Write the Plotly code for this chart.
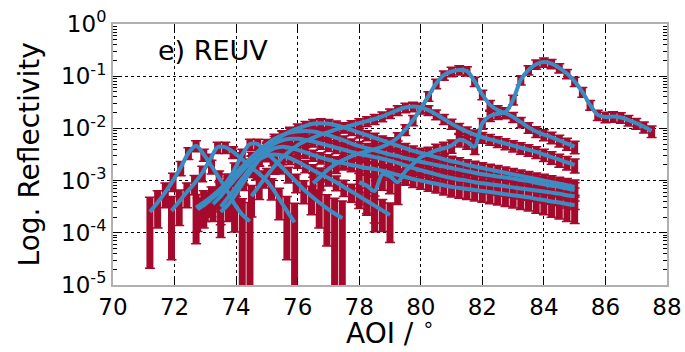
import numpy as np
import plotly.graph_objects as go

# ---------------- data (log10 reflectivity, sampled every 0.25 deg AOI) ----------------
aoi_step = 0.25

c1_start = 71.2
c1_log = [-3.60, -3.42, -3.22, -3.00, -2.75, -2.47, -2.33, -2.50, -2.72, -2.95, -3.18, -3.45, -3.65, -3.78]

c2_start = 71.9
c2_log = [-3.58, -3.40, -3.22, -3.05, -2.85, -2.60, -2.36, -2.36, -2.45, -2.57, -2.70, -2.82, -2.95,
          -3.12, -3.35, -3.58, -3.80]

c3_start = 72.7
c3_log = [-3.52, -3.42, -3.32, -3.20, -3.02, -2.78, -2.50, -2.30, -2.30, -2.45, -2.58, -2.72, -2.87,
          -3.02, -3.17, -3.30, -3.42, -3.53, -3.63, -3.72]

d_start = 73.25
d_log = [-3.45, -3.30, -3.12, -2.95, -2.78, -2.62, -2.48, -2.35, -2.24, -2.14, -2.06, -2.00, -1.95,
         -1.91, -1.90, -1.91, -1.94, -1.98, -2.03, -2.08, -2.13, -2.18, -2.23, -2.28, -2.33, -2.38,
         -2.43, -2.47, -2.51, -2.55, -2.59, -2.63, -2.66, -2.70, -2.73, -2.76, -2.79, -2.82, -2.85,
         -2.88, -2.91, -2.94, -2.97, -3.00, -3.03, -3.06, -3.09, -3.12]

e_start = 73.0
e_log = [-3.40, -3.28, -3.15, -3.00, -2.85, -2.70, -2.55, -2.42, -2.30, -2.20, -2.13, -2.08, -2.06,
         -2.05, -2.06, -2.09, -2.13, -2.18, -2.23, -2.29, -2.34, -2.38, -2.42, -2.46, -2.50, -2.53,
         -2.57, -2.60, -2.64, -2.67, -2.70, -2.73, -2.76, -2.79, -2.82, -2.85, -2.88, -2.90, -2.92,
         -2.94, -2.96, -2.99, -3.01, -3.04, -3.07, -3.10, -3.12, -3.15, -3.18]

f_start = 72.75
f_log = [-3.55, -3.45, -3.33, -3.20, -3.06, -2.92, -2.78, -2.63, -2.50, -2.38, -2.29, -2.23, -2.20,
         -2.20, -2.22, -2.25, -2.29, -2.33, -2.37, -2.41, -2.45, -2.49, -2.52, -2.55, -2.58, -2.62,
         -2.66, -2.71, -2.76, -2.80, -2.84, -2.88, -2.92, -2.95, -2.98, -3.00, -3.03, -3.05, -3.07,
         -3.09, -3.11, -3.13, -3.15, -3.17, -3.19, -3.21, -3.23, -3.25, -3.28, -3.30]

g_start = 73.5
g_log = [-3.60, -3.45, -3.25, -3.02, -2.80, -2.60, -2.46, -2.38, -2.35, -2.37, -2.41, -2.46, -2.51,
         -2.56, -2.60, -2.64, -2.67, -2.70, -2.73, -2.76, -2.78, -2.81, -2.85, -2.89, -2.93, -2.97,
         -3.00, -3.03, -3.06, -3.09, -3.12, -3.14, -3.16, -3.18, -3.20, -3.22, -3.24, -3.26, -3.28,
         -3.30, -3.32, -3.35, -3.37, -3.40, -3.42, -3.45, -3.47]

h_start = 73.5
h_log = [-3.50, -3.32, -3.12, -2.92, -2.74, -2.60, -2.52, -2.50, -2.52, -2.57, -2.64, -2.72, -2.80,
         -2.88, -2.95, -3.03, -3.12, -3.21, -3.30, -3.39, -3.48, -3.57, -3.66]

c_start = 74.5
c_log = [-3.30, -3.10, -2.90, -2.72, -2.56, -2.43, -2.32, -2.24, -2.18, -2.12, -2.07, -2.02, -1.98,
         -1.94, -1.90, -1.86, -1.82, -1.77, -1.71, -1.65, -1.60, -1.58, -1.60, -1.65, -1.73, -1.82,
         -1.91, -1.99, -2.06, -2.12, -2.17, -2.21, -2.25, -2.29, -2.33, -2.37, -2.41, -2.45, -2.50,
         -2.55, -2.60, -2.65, -2.70]

b_start = 76.5
b_log = [-3.05, -2.92, -2.78, -2.68, -2.60, -2.53, -2.48, -2.44, -2.40, -2.35, -2.28, -2.18, -2.02,
         -1.84, -1.62, -1.38, -1.14, -0.98, -0.91, -0.88, -0.90, -1.10, -1.35, -1.55, -1.65, -1.71,
         -1.78, -1.88, -1.98, -2.06, -2.12, -2.17, -2.23, -2.29, -2.35]

a_start = 78.0
a_log = [-3.03, -3.10, -3.20, -2.88, -2.92, -3.03, -2.82, -2.68, -2.55, -2.48, -2.42, -2.38, -2.33,
         -2.22, -2.26, -2.35, -1.90, -1.76, -1.72, -1.69, -1.45, -1.07, -0.88, -0.77, -0.73, -0.76,
         -0.84, -0.95, -1.10, -1.30, -1.55, -1.74, -1.78, -1.77, -1.79, -1.84, -1.90, -1.97, -2.05]

# measurement uncertainty: absolute noise floor per curve + relative part
noise_floor = [1.8e-4, 1.8e-4, 1.8e-4, 1.2e-4, 1.2e-4, 1.2e-4, 1.2e-4, 1.1e-4, 2.0e-4, 3.0e-4, 4.0e-4]
rel_err = 0.20

curves = [(c1_start, c1_log), (c2_start, c2_log), (c3_start, c3_log), (d_start, d_log),
          (e_start, e_log), (f_start, f_log), (g_start, g_log), (h_start, h_log),
          (c_start, c_log), (b_start, b_log), (a_start, a_log)]

x_ticks = [70, 72, 74, 76, 78, 80, 82, 84, 86, 88]
y_tickvals = [1e-5, 1e-4, 1e-3, 1e-2, 1e-1, 1]
y_ticktext = ["10<sup>-5</sup>", "10<sup>-4</sup>", "10<sup>-3</sup>", "10<sup>-2</sup>",
              "10<sup>-1</sup>", "10<sup>0</sup>"]

RED = "#A50A2D"
BLUE = "#3A8CC1"

fig = go.Figure()

# measured data: solid error columns plus thin caps
for (x0, logs), floor in zip(curves, noise_floor):
    x = x0 + aoi_step * np.arange(len(logs))
    r = 10.0 ** np.array(logs)
    err = floor + rel_err * r
    fig.add_trace(go.Scatter(
        x=x, y=r, mode="markers",
        marker=dict(size=2, color=RED),
        error_y=dict(type="data", array=err, visible=True, color=RED, thickness=7, width=0),
        showlegend=False, hoverinfo="skip"))
    fig.add_trace(go.Scatter(
        x=x, y=r, mode="markers",
        marker=dict(size=1, color=RED, opacity=0),
        error_y=dict(type="data", array=err, visible=True, color=RED, thickness=1.5, width=5),
        showlegend=False, hoverinfo="skip"))

# fits
for x0, logs in curves:
    x = x0 + aoi_step * np.arange(len(logs))
    r = 10.0 ** np.array(logs)
    fig.add_trace(go.Scatter(
        x=x, y=r, mode="lines",
        line=dict(color=BLUE, width=4, shape="spline", smoothing=0.8),
        showlegend=False, hoverinfo="skip"))

font = "DejaVu Sans, Liberation Sans, sans-serif"

fig.update_layout(
    width=685, height=352,
    margin=dict(l=113, r=18, t=24, b=67, autoexpand=False),
    paper_bgcolor="white", plot_bgcolor="white",
    font=dict(family=font, size=23, color="black"),
    showlegend=False,
    annotations=[
        dict(text="e) REUV", x=73.25, y=-0.5, xref="x", yref="y",
             showarrow=False, font=dict(size=27, family=font, color="black")),
        dict(text="AOI / <sup>∘</sup>", x=0.5, y=-0.178, xref="paper", yref="paper",
             xanchor="center", yanchor="middle", showarrow=False,
             font=dict(size=28, family=font, color="black")),
        dict(text="Log. Reflectivity", x=-0.15, y=0.5, xref="paper", yref="paper",
             xanchor="center", yanchor="middle", textangle=-90, showarrow=False,
             font=dict(size=28, family=font, color="black")),
    ],
)

fig.update_xaxes(
    range=[70, 88], tickvals=x_ticks, ticks="inside", ticklen=7, tickcolor="black",
    showline=True, linecolor="#b0b0b0", linewidth=2, mirror="ticks", automargin=False,
    showgrid=True, gridcolor="black", griddash="dot", gridwidth=1, zeroline=False,
    tickfont=dict(size=23),
)

fig.update_yaxes(
    type="log", range=[-5, 0], tickvals=y_tickvals, ticktext=y_ticktext,
    ticks="inside", ticklen=7, tickcolor="black", automargin=False,
    minor=dict(ticks="inside", ticklen=4, tickcolor="black", dtick="D1", showgrid=False),
    showline=True, linecolor="#b0b0b0", linewidth=2, mirror="ticks",
    showgrid=True, gridcolor="black", griddash="dot", gridwidth=1, zeroline=False,
    tickfont=dict(size=23),
)

fig.write_html("out.html", config={"displayModeBar": False},
               post_script="document.body.style.margin='0';document.body.style.overflow='hidden';")
